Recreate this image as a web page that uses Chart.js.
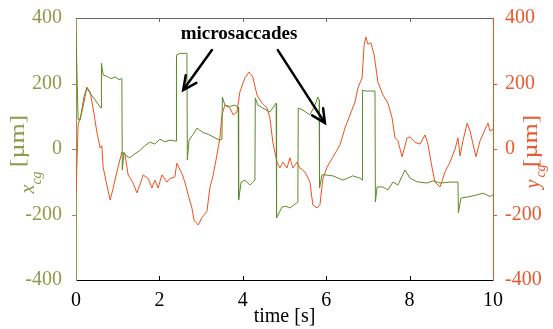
<!DOCTYPE html>
<html>
<head>
<meta charset="utf-8">
<script src="https://cdn.jsdelivr.net/npm/chart.js@4"></script>
<style>
  html, body { margin: 0; padding: 0; background: #fff; }
  #chart { display: block; }
</style>
</head>
<body>
<canvas id="chart" width="553" height="329"></canvas>
<script>
// x_cg trace (green), time in s and position in um
const xcgTime = [0.00, 0.02, 0.05, 0.10, 0.19, 0.26, 0.34, 0.46, 0.58, 0.60, 0.61, 0.65, 0.74, 0.84, 0.94, 1.03, 1.10,
    1.11, 1.15, 1.20, 1.29, 1.41, 1.53, 1.65, 1.77, 1.89, 2.01, 2.13, 2.25, 2.40, 2.41, 2.49, 2.66, 2.67, 2.71, 2.81,
    2.90, 3.05, 3.17, 3.29, 3.45, 3.50, 3.51, 3.57, 3.69, 3.81, 3.89, 3.90, 3.96, 4.05, 4.17, 4.24, 4.29, 4.30, 4.36,
    4.48, 4.65, 4.80, 4.81, 4.94, 5.04, 5.13, 5.32, 5.33, 5.44, 5.61, 5.73, 5.80, 5.83, 5.84, 5.90, 5.97, 6.16, 6.40,
    6.64, 6.81, 6.86, 6.87, 6.93, 7.17, 7.18, 7.22, 7.36, 7.48, 7.60, 7.72, 7.89, 8.01, 8.18, 8.42, 8.56, 8.73, 8.97,
    9.16, 9.17, 9.23, 9.45, 9.62, 9.76, 9.93, 10.00];
const xcgVals = [354, 354, 90, 88, 160, 186, 170, 150, 128, 125, 262, 226, 222, 215, 220, 212, 215,
    -64, -10, -20, -27, -15, -5, 10, 21, 15, 30, 22, 27, 24, 287, 292, 292, -34, 27, 45,
    64, 50, 45, 37, 27, 30, 159, 134, 130, 134, 128, -156, -101, -95, -110, -101, -95, 156, 134,
    125, 113, 140, -210, -177, -175, -180, -162, 125, 119, 104, 134, 159, 150, -119, -79, -79, -82, -95,
    -82, -89, -95, 180, 177, 177, -162, -116, -116, -125, -101, -110, -64, -89, -100, -104, -97, -104, -101,
    -101, -195, -150, -145, -140, -135, -145, -140];

// y_cg trace (red)
const ycgTime = [0.00, 0.05, 0.14, 0.22, 0.26, 0.34, 0.41, 0.50, 0.58, 0.62, 0.65, 0.74, 0.82, 0.89, 0.98, 1.10,
    1.18, 1.25, 1.37, 1.46, 1.53, 1.61, 1.73, 1.82, 1.89, 1.97, 2.06, 2.18, 2.25, 2.37, 2.42, 2.54, 2.61, 2.69,
    2.78, 2.83, 2.93, 3.02, 3.14, 3.21, 3.29, 3.38, 3.45, 3.50, 3.57, 3.69, 3.77, 3.86, 3.93, 4.05, 4.15, 4.24,
    4.34, 4.46, 4.58, 4.65, 4.72, 4.82, 4.89, 4.96, 5.06, 5.13, 5.20, 5.30, 5.37, 5.49, 5.61, 5.68, 5.78, 5.85,
    5.92, 6.02, 6.16, 6.33, 6.45, 6.57, 6.69, 6.76, 6.86, 6.91, 6.95, 7.00, 7.07, 7.15, 7.24, 7.36, 7.48, 7.58,
    7.65, 7.72, 7.82, 7.94, 8.01, 8.13, 8.25, 8.37, 8.44, 8.54, 8.61, 8.73, 8.85, 8.97, 9.09, 9.16, 9.21, 9.28,
    9.38, 9.45, 9.59, 9.69, 9.81, 9.88, 9.93, 10.00];
const ycgVals = [-140, 73, 113, 160, 189, 174, 125, 52, 3, 10, -55, -110, -156, -120, -70, -9,
    -20, -79, -104, -134, -110, -79, -90, -119, -95, -119, -79, -101, -90, -85, -43, -75, -101, -140,
    -180, -217, -232, -210, -190, -119, -79, -18, 34, 104, 134, 125, 104, 113, 174, 217, 235, 220,
    165, 140, 125, 95, 21, -40, -58, -40, -58, -27, -58, -40, -58, -70, -101, -171, -180, -170,
    -91, -55, -25, 12, 64, 104, 143, 186, 217, 318, 342, 320, 325, 287, 204, 165, 140, 95,
    34, 25, -24, 34, 37, 20, 15, 43, 15, -58, -101, -116, -70, -40, 0, 34, -21, 25,
    79, 55, -24, 25, 60, 79, 55, 60];

const xTicks = [0, 2, 4, 6, 8, 10];
const yTicks = [-400, -200, 0, 200, 400];

const green = "#5e8a28";
const greenText = "#8c9b4a";
const red = "#f0501e";
const redText = "#e9592d";
const serif = "'Liberation Serif', 'Times New Roman', serif";

function toPoints(ts, vs) {
    return ts.map((t, i) => ({ x: t, y: vs[i] }));
}

function fixWidth(w) {
    return function (scale) { scale.width = w; };
}

// axis titles, inner ticks, frame and the "microsaccades" note
const decorations = {
    id: "decorations",
    afterDraw(chart) {
        const ctx = chart.ctx;
        const area = chart.chartArea;
        const xs = chart.scales.x;
        const yl = chart.scales.y;
        const yr = chart.scales.y1;
        ctx.save();

        // top frame line
        ctx.strokeStyle = "#666";
        ctx.lineWidth = 1;
        ctx.beginPath();
        ctx.moveTo(area.left, area.top + 0.5);
        ctx.lineTo(area.right, area.top + 0.5);
        ctx.stroke();

        // x ticks, pointing inward at top and bottom
        xTicks.slice(1, -1).forEach(v => {
            const px = Math.round(xs.getPixelForValue(v)) + 0.5;
            ctx.strokeStyle = "#666";
            ctx.beginPath();
            ctx.moveTo(px, area.top);
            ctx.lineTo(px, area.top + 4);
            ctx.stroke();
            ctx.strokeStyle = "#000";
            ctx.beginPath();
            ctx.moveTo(px, area.bottom);
            ctx.lineTo(px, area.bottom - 4);
            ctx.stroke();
        });

        // y ticks, short marks outside each axis
        yTicks.slice(1, -1).forEach(v => {
            const py = Math.round(yl.getPixelForValue(v)) + 0.5;
            ctx.strokeStyle = greenText;
            ctx.beginPath();
            ctx.moveTo(area.left - 4, py);
            ctx.lineTo(area.left, py);
            ctx.stroke();
            const pr = Math.round(yr.getPixelForValue(v)) + 0.5;
            ctx.strokeStyle = red;
            ctx.beginPath();
            ctx.moveTo(area.right, pr);
            ctx.lineTo(area.right + 4, pr);
            ctx.stroke();
        });

        // rotated text piece, read bottom to top
        function upText(str, cx, cy, font, color, stretch) {
            ctx.save();
            ctx.translate(cx, cy);
            ctx.rotate(-Math.PI / 2);
            ctx.scale(stretch || 1, 1);
            ctx.font = font;
            ctx.fillStyle = color;
            ctx.textAlign = "center";
            ctx.textBaseline = "middle";
            ctx.fillText(str, 0, 0);
            ctx.restore();
        }
        upText("[\u00b5m]", 19, 141, "20px " + serif, greenText, 1.3);
        upText("x", 29, 189, "italic 20px " + serif, greenText);
        upText("cg", 37, 178, "italic 14px " + serif, greenText);
        upText("[\u00b5m]", 532, 141, "20px " + serif, redText, 1.3);
        upText("y", 534, 184, "italic 20px " + serif, redText);
        upText("cg", 541, 171, "italic 14px " + serif, redText);

        // x axis title
        ctx.fillStyle = "#000";
        ctx.font = "20px " + serif;
        ctx.textAlign = "center";
        ctx.textBaseline = "middle";
        ctx.fillText("time [s]", (area.left + area.right) / 2, 317);

        // annotation text
        ctx.font = "bold 19px " + serif;
        ctx.fillText("microsaccades", xs.getPixelForValue(3.91), yl.getPixelForValue(351));

        // arrows, placed in data coordinates
        function arrow(t0, v0, t1, v1) {
            const x0 = xs.getPixelForValue(t0), y0 = yl.getPixelForValue(v0);
            const x1 = xs.getPixelForValue(t1), y1 = yl.getPixelForValue(v1);
            const ang = Math.atan2(y1 - y0, x1 - x0);
            const head = 15, spread = 0.45;
            ctx.strokeStyle = "#000";
            ctx.lineWidth = 2.5;
            ctx.lineCap = "round";
            ctx.beginPath();
            ctx.moveTo(x0, y0);
            ctx.lineTo(x1, y1);
            ctx.moveTo(x1 - head * Math.cos(ang - spread), y1 - head * Math.sin(ang - spread));
            ctx.lineTo(x1, y1);
            ctx.lineTo(x1 - head * Math.cos(ang + spread), y1 - head * Math.sin(ang + spread));
            ctx.stroke();
        }
        arrow(3.26, 302, 2.57, 180);
        arrow(4.84, 302, 5.97, 79);

        ctx.restore();
    }
};

const tickFont = { family: serif, size: 20 };

new Chart(document.getElementById("chart").getContext("2d"), {
    type: "line",
    data: {
        datasets: [
            {
                label: "x_cg",
                data: toPoints(xcgTime, xcgVals),
                borderColor: green,
                borderWidth: 1,
                pointRadius: 0,
                tension: 0,
                yAxisID: "y"
            },
            {
                label: "y_cg",
                data: toPoints(ycgTime, ycgVals),
                borderColor: red,
                borderWidth: 1,
                pointRadius: 0,
                tension: 0,
                yAxisID: "y1"
            }
        ]
    },
    options: {
        responsive: false,
        animation: false,
        devicePixelRatio: 1,
        layout: { padding: { top: 18, left: 0, right: 0, bottom: 0 } },
        plugins: {
            legend: { display: false },
            tooltip: { enabled: false }
        },
        scales: {
            x: {
                type: "linear",
                min: 0,
                max: 10,
                afterBuildTicks: scale => { scale.ticks = xTicks.map(v => ({ value: v })); },
                afterFit: scale => { scale.height = 49; },
                grid: { display: false },
                border: { display: true, color: "#000", width: 1 },
                ticks: { color: "#000", font: tickFont, padding: 1, maxRotation: 0 }
            },
            y: {
                position: "left",
                min: -400,
                max: 400,
                afterBuildTicks: scale => { scale.ticks = yTicks.map(v => ({ value: v })); },
                afterFit: fixWidth(76),
                grid: { display: false },
                border: { display: true, color: greenText, width: 1 },
                ticks: { color: greenText, font: tickFont, padding: 6 }
            },
            y1: {
                position: "right",
                min: -400,
                max: 400,
                afterBuildTicks: scale => { scale.ticks = yTicks.map(v => ({ value: v })); },
                afterFit: fixWidth(60),
                grid: { display: false },
                border: { display: true, color: red, width: 1 },
                ticks: { color: redText, font: tickFont, padding: 4 }
            }
        }
    },
    plugins: [decorations]
});
</script>
</body>
</html>
